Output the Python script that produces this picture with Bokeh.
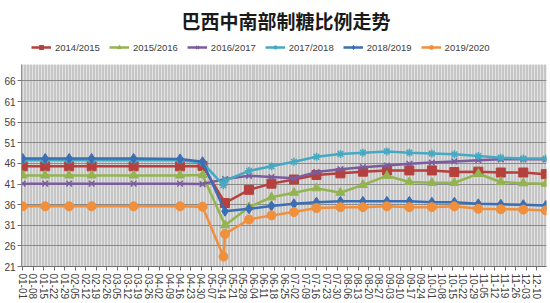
import datetime
from bokeh.plotting import figure
from bokeh.layouts import column
from bokeh.models import FixedTicker, Legend, LegendItem, Range1d
from bokeh.embed import file_html
from bokeh.resources import INLINE

TITLE = "巴西中南部制糖比例走势"

DATES = ["01-01", "01-16", "02-01", "02-16", "03-16", "04-16", "05-01", "05-16",
         "06-01", "06-16", "07-01", "07-16", "08-01", "08-16", "09-01", "09-16",
         "10-01", "10-16", "11-01", "11-16", "12-01", "12-16"]
DATES_EXTRA = ["01-01", "01-16", "02-01", "02-16", "03-16", "04-16", "05-01", "05-15", "05-16",
               "06-01", "06-16", "07-01", "07-16", "08-01", "08-16", "09-01", "09-16",
               "10-01", "10-16", "11-01", "11-16", "12-01", "12-16"]

S2014 = [45.3, 45.3, 45.3, 45.3, 45.3, 45.3, 45.4, 36.4, 39.6, 41.1, 42.1, 43.2, 43.6,
         44.0, 44.3, 44.3, 44.3, 43.9, 44.0, 43.8, 43.8, 43.4]
S2015 = [43.1, 43.1, 43.1, 43.1, 43.1, 43.1, 43.2, 31.0, 35.4, 37.8, 38.9, 40.0, 38.9,
         40.8, 43.0, 41.5, 41.3, 41.3, 43.5, 41.5, 41.2, 41.1]
S2016 = [41.1, 41.1, 41.1, 41.1, 41.1, 41.1, 41.0, 42.2, 43.0, 42.7, 42.4, 43.9, 44.6,
         45.1, 45.5, 45.9, 46.2, 46.5, 46.8, 47.0, 47.0, 47.0]
S2017 = [46.8, 46.8, 46.8, 46.8, 46.8, 46.8, 46.2, 40.7, 41.8, 44.2, 45.3, 46.4, 47.6,
         48.3, 48.6, 48.9, 48.6, 48.4, 48.2, 47.8, 47.4, 47.2, 47.2]
S2018 = [47.2, 47.2, 47.2, 47.2, 47.2, 47.1, 46.4, 34.4, 35.0, 35.7, 36.2, 36.6, 36.8,
         36.8, 36.8, 36.8, 36.6, 36.6, 36.2, 36.1, 36.0, 35.8]
S2019 = [35.6, 35.6, 35.6, 35.6, 35.6, 35.6, 35.5, 23.4, 28.9, 32.4, 33.4, 34.2, 35.2,
         35.4, 35.4, 35.6, 35.4, 35.4, 35.6, 35.0, 34.9, 34.8, 34.6]

SERIES = ["2014/2015", "2015/2016", "2016/2017", "2017/2018", "2018/2019", "2019/2020"]

TICK_LABELS = ["01-01", "01-08", "01-15", "01-22", "01-29", "02-05", "02-12", "02-19",
               "02-26", "03-05", "03-12", "03-19", "03-26", "04-02", "04-09", "04-16",
               "04-23", "04-30", "05-07", "05-14", "05-21", "05-28", "06-04", "06-11",
               "06-18", "06-25", "07-02", "07-09", "07-16", "07-23", "07-30", "08-06",
               "08-13", "08-20", "08-27", "09-03", "09-10", "09-17", "09-24", "10-01",
               "10-08", "10-15", "10-22", "10-29", "11-05", "11-12", "11-19", "11-26",
               "12-03", "12-10"]
Y_TICKS = [21, 26, 31, 36, 41, 46, 51, 56, 61, 66]

COLORS = ["#B5403D", "#93B450", "#7B5C9E", "#46A9C4", "#3C6EB4", "#F08F3C"]
MARKERS = ["square", "triangle", "x", "asterisk", "diamond", "circle"]


def day_index(s):
    m, d = map(int, s.split("-"))
    return (datetime.date(2019, m, d) - datetime.date(2019, 1, 1)).days


def add_series(fig, xs, vals, col, mk):
    r1 = fig.line(xs, vals, line_color=col, line_width=2.5)
    if mk in ("x", "asterisk"):
        r2 = fig.scatter(xs, vals, marker=mk, size=8, line_color=col, line_width=1.5)
    else:
        r2 = fig.scatter(xs, vals, marker=mk, size=9 if mk != "diamond" else 10,
                         fill_color=col, line_color=col)
    return r1, r2


data = [(DATES, S2014), (DATES, S2015), (DATES, S2016),
        (DATES_EXTRA, S2017), (DATES, S2018), (DATES_EXTRA, S2019)]

# ---- header: title + legend (series drawn outside its visible range) ----
head = figure(width=550, height=63, output_backend="svg", toolbar_location=None,
              x_axis_type=None, y_axis_type=None,
              x_range=Range1d(-1000, -900), y_range=Range1d(-1000, -900),
              min_border_left=0, min_border_right=0, min_border_top=0, min_border_bottom=0)
head.outline_line_color = None
head.background_fill_color = "white"
head.border_fill_color = "white"
head.xgrid.grid_line_color = None
head.ygrid.grid_line_color = None
head.title.text = TITLE
head.title.align = "left"
head.title.offset = 160
head.title.text_font = "Noto Sans CJK SC"
head.title.text_font_size = "19px"
head.title.text_font_style = "bold"
head.title.text_color = "#1a1a1a"
head.title.standoff = 8

items = []
for name, col, mk, (dates, vals) in zip(SERIES, COLORS, MARKERS, data):
    r1, r2 = add_series(head, [day_index(d) for d in dates], vals, col, mk)
    items.append(LegendItem(label=name, renderers=[r1, r2]))

legend = Legend(items=items, orientation="horizontal", location=(10, 10),
                label_text_font="Liberation Sans", label_text_font_size="9.5px",
                label_text_color="#404040", glyph_width=20, glyph_height=10,
                label_height=12, spacing=9, padding=1, margin=0,
                border_line_color=None, label_standoff=4,
                background_fill_alpha=0)
head.add_layout(legend)

# ---- main chart ----
p = figure(width=550, height=240, output_backend="svg", toolbar_location=None,
           x_range=Range1d(-0.8, 349.5), y_range=Range1d(21, 70),
           min_border_left=21, min_border_right=4, min_border_top=1, min_border_bottom=37)
p.background_fill_color = "#e2e2e2"
p.border_fill_color = "white"
p.outline_line_color = None

tick_days = [day_index(t) for t in TICK_LABELS]
p.xaxis.ticker = FixedTicker(ticks=tick_days)
p.xaxis.major_label_overrides = {d: t for d, t in zip(tick_days, TICK_LABELS)}
p.xaxis.major_label_orientation = "vertical"
p.xaxis.major_label_text_font = "Liberation Sans"
p.xaxis.major_label_text_font_size = "10px"
p.xaxis.major_label_text_color = "#404040"
p.xaxis.axis_line_color = "#707070"
p.xaxis.major_tick_line_color = "#707070"
p.xaxis.major_tick_out = 4
p.xaxis.major_tick_in = 0
p.xaxis.minor_tick_line_color = None
p.xaxis.major_label_standoff = 3

p.yaxis.ticker = FixedTicker(ticks=Y_TICKS)
p.yaxis.major_label_text_font = "Liberation Sans"
p.yaxis.major_label_text_font_size = "10px"
p.yaxis.major_label_text_color = "#404040"
p.yaxis.axis_line_color = "#909090"
p.yaxis.major_tick_line_color = "#707070"
p.yaxis.major_tick_out = 4
p.yaxis.major_tick_in = 0
p.yaxis.minor_tick_line_color = None
p.yaxis.major_label_standoff = 2

p.xgrid.ticker = FixedTicker(ticks=list(range(0, 350)))
p.xgrid.grid_line_color = "#c6c6c6"
p.xgrid.grid_line_alpha = 1.0
p.ygrid.grid_line_color = "#8a8a8a"
p.ygrid.grid_line_width = 1

for col, mk, (dates, vals) in zip(COLORS, MARKERS, data):
    add_series(p, [day_index(d) for d in dates], vals, col, mk)

layout = column(head, p, spacing=0)
open("out.html", "w").write(file_html(layout, INLINE))
